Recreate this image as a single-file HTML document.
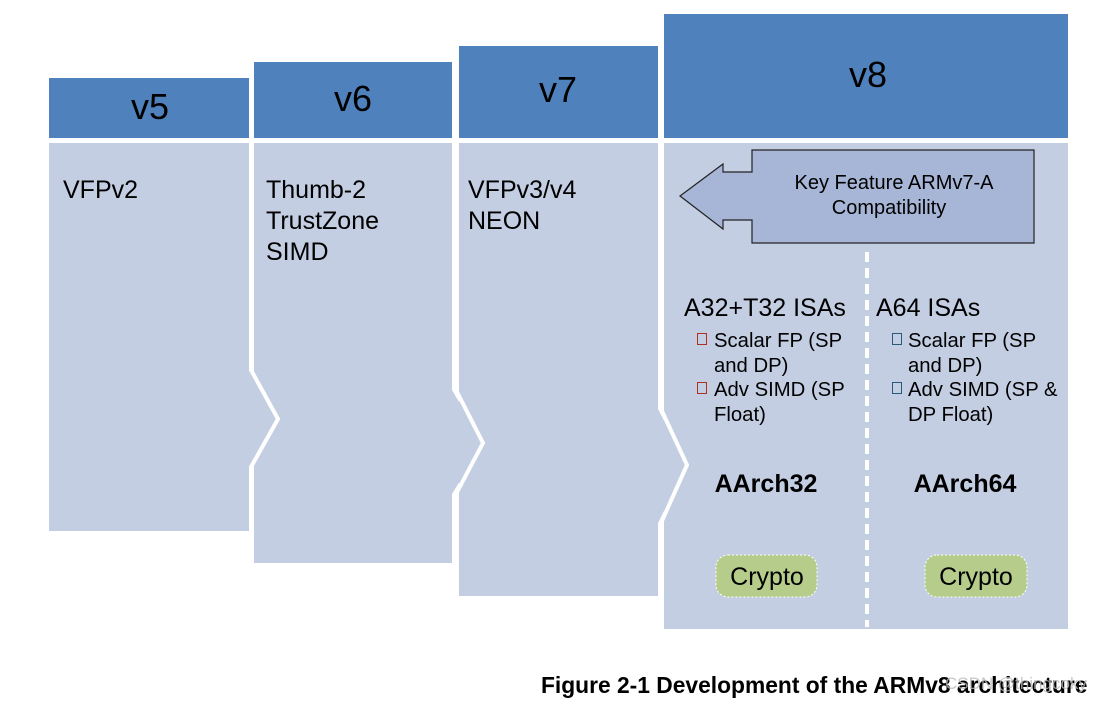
<!DOCTYPE html>
<html><head><meta charset="utf-8"><style>
html,body{margin:0;padding:0;background:#fff;}
svg{display:block;font-family:"Liberation Sans",Arial,sans-serif;}
</style></head><body>
<svg width="1119" height="702" viewBox="0 0 1119 702" xmlns="http://www.w3.org/2000/svg">
<g fill="#4f81bd">
<rect x="49" y="78" width="200" height="60"/>
<rect x="254" y="62" width="198" height="76"/>
<rect x="459" y="46" width="199" height="92"/>
<rect x="664" y="14" width="404" height="124"/>
</g>
<g fill="#c4cee3">
<rect x="49" y="143" width="200" height="388"/>
<rect x="254" y="143" width="198" height="420"/>
<rect x="459" y="143" width="199" height="453"/>
<rect x="664" y="143" width="404" height="486"/>
<polygon points="249,370 278,419 249,467"/>
<polygon points="452,390 483,443 452,494"/>
<polygon points="658,409 687,465 658,523"/>
</g>
<g fill="none" stroke="#fff" stroke-width="4">
<polyline points="251,140 251,370 278,419 251,467 251,565"/>
<polyline points="456,140 456,390 483,443 456,494 456,598"/>
<polyline points="661,140 661,409 687,465 661,523 661,631"/>
</g>
<g fill="#000" font-size="36" text-anchor="middle">
<text x="150" y="119">v5</text>
<text x="353" y="111">v6</text>
<text x="558" y="102">v7</text>
<text x="868" y="87">v8</text>
</g>
<g fill="#000" font-size="25">
<text x="63" y="198">VFPv2</text>
<text x="266" y="198">Thumb-2</text>
<text x="266" y="229">TrustZone</text>
<text x="266" y="260">SIMD</text>
<text x="468" y="198">VFPv3/v4</text>
<text x="468" y="229">NEON</text>
</g>
<polygon points="752,150 1034,150 1034,243 752,243 752,220 723,220 723,229 680,196 723,164 723,172 752,172" fill="#a7b6d6" stroke="#222" stroke-width="1.2"/>
<g font-size="20" text-anchor="middle" fill="#000">
<text x="894" y="189">Key Feature ARMv7-A</text>
<text x="889" y="214">Compatibility</text>
</g>
<line x1="867" y1="252" x2="867" y2="627" stroke="#fff" stroke-width="4" stroke-dasharray="10,6"/>
<g fill="#000" font-size="25">
<text x="684" y="316">A32+T32 ISAs</text>
<text x="876" y="316">A64 ISAs</text>
</g>
<g fill="#000" font-size="20.3">
<text x="714" y="347">Scalar FP (SP</text>
<text x="714" y="372">and DP)</text>
<text x="714" y="396">Adv SIMD (SP</text>
<text x="714" y="421">Float)</text>
<text x="908" y="347">Scalar FP (SP</text>
<text x="908" y="372">and DP)</text>
<text x="908" y="396">Adv SIMD (SP &amp;</text>
<text x="908" y="421">DP Float)</text>
</g>
<g fill="none" stroke-width="1">
<rect x="697.5" y="333.5" width="9" height="11" stroke="#b03020"/>
<rect x="697.5" y="382.5" width="9" height="11" stroke="#b03020"/>
<rect x="892.5" y="333.5" width="9" height="11" stroke="#2a5a7a"/>
<rect x="892.5" y="382.5" width="9" height="11" stroke="#2a5a7a"/>
</g>
<g fill="#000" font-size="25" font-weight="bold" text-anchor="middle">
<text x="766" y="492">AArch32</text>
<text x="965" y="492">AArch64</text>
</g>
<rect x="716" y="555" width="101" height="42" rx="12" fill="#b5cc8a" stroke="#fff" stroke-dasharray="2,2"/>
<rect x="925" y="555" width="102" height="42" rx="12" fill="#b5cc8a" stroke="#fff" stroke-dasharray="2,2"/>
<g fill="#000" font-size="25" text-anchor="middle">
<text x="767" y="585">Crypto</text>
<text x="976" y="585">Crypto</text>
</g>
<text x="541" y="693" font-size="22.8" font-weight="bold" fill="#000">Figure 2-1 Development of the ARMv8 architecture</text>
<text x="945" y="689" font-size="17" fill="#bbb" opacity="0.8">CSDN @thingcoky</text>
</svg>
</body></html>
